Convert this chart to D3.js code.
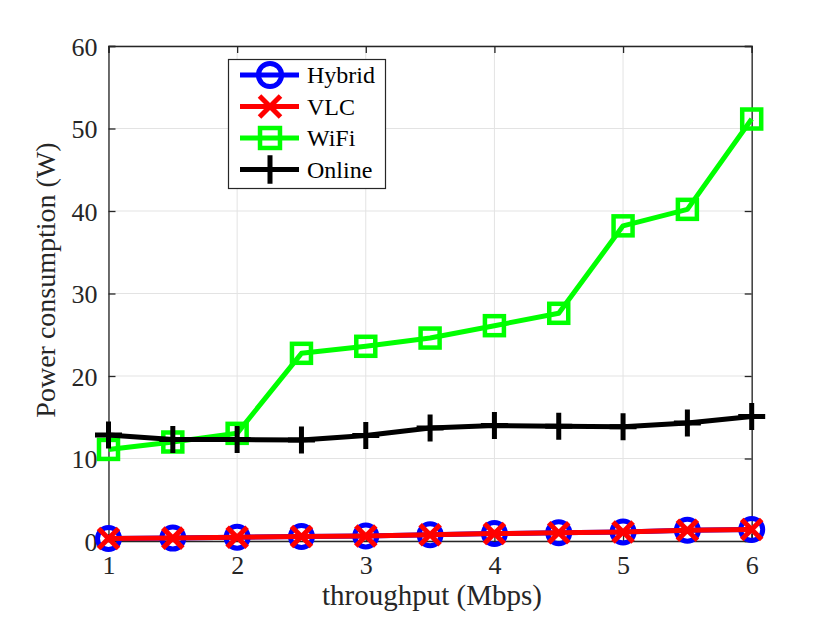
<!DOCTYPE html>
<html><head><meta charset="utf-8">
<script src="https://cdn.jsdelivr.net/npm/d3@7"></script>
<style>body{margin:0;background:#fff}svg{display:block}svg text{font-family:"Liberation Serif",serif !important}</style>
</head><body><div id="c"></div>
<script>
const throughput = [1, 1.5, 2, 2.5, 3, 3.5, 4, 4.5, 5, 5.5, 6];
const hybrid = [0.3, 0.35, 0.45, 0.55, 0.6, 0.75, 0.9, 1.0, 1.1, 1.3, 1.4];
const vlc    = [0.3, 0.35, 0.45, 0.55, 0.6, 0.75, 0.9, 1.0, 1.1, 1.3, 1.4];
const wifi   = [11.1, 12.0, 13.05, 22.75, 23.6, 24.6, 26.1, 27.6, 38.2, 40.2, 51.15];
const online = [12.85, 12.3, 12.3, 12.25, 12.8, 13.7, 14.0, 13.9, 13.85, 14.3, 15.1];
const xTicks = [1, 2, 3, 4, 5, 6];
const yTicks = [0, 10, 20, 30, 40, 50, 60];
const seriesNames = ["Hybrid", "VLC", "WiFi", "Online"];
const seriesColors = ["#0000ff", "#ff0000", "#00ff00", "#000000"];
const seriesMarkers = ["circle", "cross", "square", "plus"];
const seriesData = [hybrid, vlc, wifi, online];

const FONT = '"Liberation Serif", serif';
const W = 830, H = 623;
const L = 108.5, R = 751.7, T = 46, B = 541;
const svg = d3.select("#c").append("svg").attr("width", W).attr("height", H).attr("font-family", FONT);
const x = d3.scaleLinear().domain([1, 6]).range([L, R]);
const y = d3.scaleLinear().domain([0, 60]).range([B, T]);
const axisCol = "#262626";

// grid
const g = svg.append("g");
g.selectAll(".gx").data(xTicks).join("line").attr("x1", d => x(d)).attr("x2", d => x(d))
  .attr("y1", T).attr("y2", B).attr("stroke", "#e3e3e3").attr("stroke-width", 1);
g.selectAll(".gy").data(yTicks).join("line").attr("y1", d => y(d)).attr("y2", d => y(d))
  .attr("x1", L).attr("x2", R).attr("stroke", "#e3e3e3").attr("stroke-width", 1);

// axes
const xa = d3.axisBottom(x).tickValues(xTicks).tickSize(-7).tickPadding(15).tickFormat(d3.format("d"));
const ya = d3.axisLeft(y).tickValues(yTicks).tickSize(-7).tickPadding(11).tickFormat(d3.format("d"));
const xaxG = svg.append("g").attr("transform", `translate(0,${B})`).call(xa);
const yaxG = svg.append("g").attr("transform", `translate(${L},0)`).call(ya);
const xaxT = svg.append("g").attr("transform", `translate(0,${T})`).call(d3.axisTop(x).tickValues(xTicks).tickSize(-7).tickFormat(""));
const yaxR = svg.append("g").attr("transform", `translate(${R},0)`).call(d3.axisRight(y).tickValues(yTicks).tickSize(-7).tickFormat(""));
[xaxG, yaxG, xaxT, yaxR].forEach(a => {
  a.attr("font-family", FONT).attr("font-size", 26);
  a.select(".domain").attr("stroke", axisCol).attr("stroke-width", 1.3);
  a.selectAll(".tick line").attr("stroke", axisCol).attr("stroke-width", 1.3);
  a.selectAll("text").attr("font-family", FONT).attr("font-size", 26).attr("fill", axisCol);
});
yaxG.selectAll("text").attr("dy", "0.35em");

// labels
svg.append("text").attr("x", 432).attr("y", 605).attr("text-anchor", "middle")
  .attr("font-family", FONT).attr("font-size", 29).attr("fill", axisCol).text("throughput (Mbps)");
svg.append("text").attr("transform", "translate(55,280) rotate(-90)").attr("text-anchor", "middle")
  .attr("font-family", FONT).attr("font-size", 28).attr("fill", axisCol).text("Power consumption (W)");

function drawMarker(sel, type, color, s) {
  if (type === "circle") {
    sel.append("circle").attr("r", 11 * s).attr("fill", "none").attr("stroke", color).attr("stroke-width", 5);
  } else if (type === "cross") {
    const a = 10 * s;
    sel.append("path").attr("d", `M${-a},${-a}L${a},${a}M${-a},${a}L${a},${-a}`).attr("stroke", color).attr("stroke-width", 5).attr("fill", "none");
  } else if (type === "square") {
    const a = 9.5 * s;
    sel.append("rect").attr("x", -a).attr("y", -a).attr("width", 2 * a).attr("height", 2 * a)
      .attr("fill", "none").attr("stroke", color).attr("stroke-width", 4.5);
  } else if (type === "plus") {
    const a = 13.5 * s;
    sel.append("path").attr("d", `M${-a},0L${a},0M0,${-a}L0,${a}`).attr("stroke", color).attr("stroke-width", 5).attr("fill", "none");
  }
}

const line = d3.line().x((d, i) => x(throughput[i])).y(d => y(d));
seriesData.forEach((vals, k) => {
  const sg = svg.append("g");
  sg.append("path").datum(vals).attr("d", line).attr("fill", "none")
    .attr("stroke", seriesColors[k]).attr("stroke-width", 5).attr("stroke-linejoin", "round");
  vals.forEach((v, i) => {
    const m = sg.append("g").attr("transform", `translate(${x(throughput[i])},${y(v)})`);
    drawMarker(m, seriesMarkers[k], seriesColors[k], 1);
  });
});

// legend
const lg = svg.append("g");
lg.append("rect").attr("x", 228.5).attr("y", 59.5).attr("width", 157).attr("height", 129)
  .attr("fill", "#fff").attr("stroke", axisCol).attr("stroke-width", 1.2);
const rowY = [75, 106.5, 138, 169.5];
seriesNames.forEach((n, k) => {
  const r = lg.append("g").attr("transform", `translate(0,${rowY[k]})`);
  r.append("line").attr("x1", 240).attr("x2", 299).attr("y1", 0).attr("y2", 0)
    .attr("stroke", seriesColors[k]).attr("stroke-width", 5);
  const m = r.append("g").attr("transform", "translate(270,0)");
  drawMarker(m, seriesMarkers[k], seriesColors[k], 1.05);
  r.append("text").attr("x", 307).attr("y", 0).attr("dy", "0.35em")
    .attr("font-family", FONT).attr("font-size", 24).attr("fill", "#000").text(n);
});
</script></body></html>
